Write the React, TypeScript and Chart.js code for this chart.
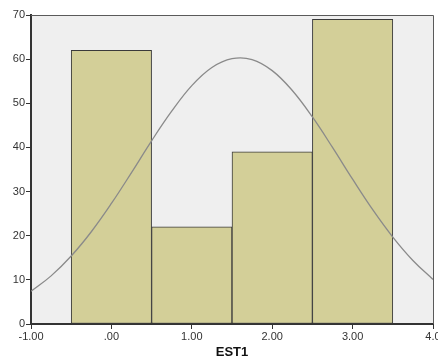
import React, { useEffect, useRef } from "react";
import { Chart, registerables } from "chart.js";
Chart.register(...registerables);

const binCenters = [0, 1, 2, 3];
const frequencies = [62, 22, 39, 69];
const curveX = [-1, -0.75, -0.5, -0.25, 0, 0.25, 0.5, 0.75, 1, 1.25, 1.5, 1.75, 2, 2.25, 2.5, 2.75, 3, 3.25, 3.5, 3.75, 4];
const curveY = [7.4, 10.9, 15.4, 20.9, 27.3, 34.3, 41.5, 48.2, 54.0, 58.1, 60.1, 59.9, 57.4, 52.9, 46.9, 40.0, 32.8, 25.9, 19.7, 14.4, 10.1];
const xTickValues = [-1, 0, 1, 2, 3, 4];
const xTickLabels = ["-1.00", ".00", "1.00", "2.00", "3.00", "4.0"];
const yTickValues = [0, 10, 20, 30, 40, 50, 60, 70];
const xTitle = "EST1";

const framePlugin = {
  id: "frame",
  beforeDraw(chart: any) {
    const { ctx, chartArea: a } = chart;
    ctx.save();
    ctx.fillStyle = "#EFEFEF";
    ctx.fillRect(a.left, a.top, a.right - a.left, a.bottom - a.top);
    ctx.restore();
  },
  afterDatasetsDraw(chart: any) {
    const { ctx, chartArea: a } = chart;
    ctx.save();
    ctx.strokeStyle = "#5a5a5a";
    ctx.lineWidth = 1;
    ctx.beginPath();
    ctx.moveTo(a.left, a.top + 0.5);
    ctx.lineTo(a.right + 0.5, a.top + 0.5);
    ctx.lineTo(a.right + 0.5, a.bottom);
    ctx.stroke();
    ctx.restore();
  },
};

export default function App() {
  const ref = useRef<HTMLCanvasElement>(null);
  useEffect(() => {
    const chart = new Chart(ref.current!, {
      type: "bar",
      data: {
        datasets: [
          {
            type: "line",
            data: curveX.map((x, i) => ({ x, y: curveY[i] })),
            borderColor: "#8a8a8a",
            borderWidth: 1.3,
            pointRadius: 0,
            tension: 0.4,
            order: 0,
          } as any,
          {
            type: "bar",
            data: binCenters.map((x, i) => ({ x, y: frequencies[i] })),
            backgroundColor: "#D3CF98",
            borderColor: "#3a3a3a",
            borderWidth: 1,
            borderSkipped: false,
            barPercentage: 1,
            categoryPercentage: 1,
            order: 1,
          } as any,
        ],
      },
      options: {
        animation: false,
        responsive: false,
        maintainAspectRatio: false,
        layout: { padding: { top: 15, right: 5, left: 0, bottom: 0 } },
        plugins: { legend: { display: false }, tooltip: { enabled: false } },
        scales: {
          x: {
            type: "linear",
            offset: false,
            min: -1,
            max: 4,
            afterBuildTicks: (s: any) => {
              s.ticks = xTickValues.map((v) => ({ value: v }));
            },
            afterFit: (s: any) => {
              s.height = 36;
              s.paddingLeft = 0;
              s.paddingRight = 0;
            },
            ticks: {
              autoSkip: false,
              maxRotation: 0,
              padding: 1,
              color: "#333",
              font: { family: "Liberation Sans", size: 11 },
              callback: (v: any) => {
                const i = xTickValues.indexOf(Number(v));
                return i >= 0 ? xTickLabels[i] : "";
              },
            },
            grid: { offset: false, drawOnChartArea: false, drawTicks: true, tickLength: 5, color: "#333", lineWidth: 1 },
            border: { display: true, color: "#333", width: 2 },
            title: {
              display: true,
              text: xTitle,
              color: "#111",
              font: { family: "Liberation Sans", size: 13, weight: "bold" },
              padding: { top: 2, bottom: 0 },
            },
          },
          y: {
            type: "linear",
            min: 0,
            max: 70,
            afterBuildTicks: (s: any) => {
              s.ticks = yTickValues.map((v) => ({ value: v }));
            },
            afterFit: (s: any) => {
              s.width = 31;
              s.paddingTop = 0;
              s.paddingBottom = 0;
            },
            ticks: {
              padding: 1,
              color: "#333",
              font: { family: "Liberation Sans", size: 11 },
              callback: (v: any) => String(v),
            },
            grid: { drawOnChartArea: false, drawTicks: true, tickLength: 5, color: "#333", lineWidth: 1 },
            border: { display: true, color: "#333", width: 2 },
          },
        },
      } as any,
      plugins: [framePlugin],
    });
    return () => chart.destroy();
  }, []);
  return (
    <div style={{ position: "fixed", left: 0, top: 0, width: 438, height: 360, background: "#fff" }}>
      <canvas ref={ref} width={438} height={360} style={{ display: "block" }} />
    </div>
  );
}
